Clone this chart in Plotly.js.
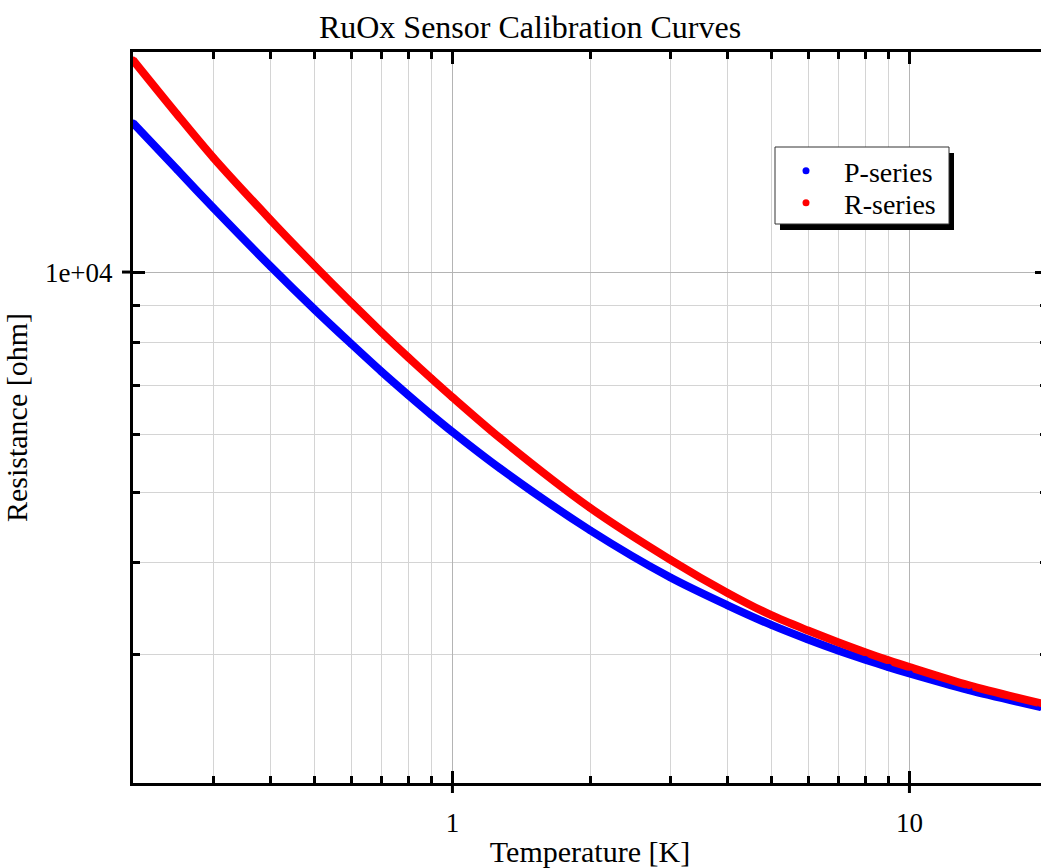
<!DOCTYPE html>
<html>
<head>
<meta charset="utf-8">
<script src="https://cdn.plot.ly/plotly-3.0.1.min.js"></script>
<style>
html, body { margin: 0; padding: 0; overflow: hidden; background: #fff; }
#chart { width: 1060px; height: 868px; }
</style>
</head>
<body>
<div id="chart"></div>
<script>
// Temperatures [K] and resistances [ohm]
const tempP = [0.2, 0.25, 0.3, 0.4, 0.5, 0.6, 0.7, 0.8, 0.9, 1.0, 1.27, 2, 3, 4, 5, 6, 7, 8, 9, 10, 13.5, 19.4];
const resP  = [15990, 13800, 12235, 10180, 8880, 7980, 7305, 6790, 6378, 6044, 5389, 4434, 3820, 3500, 3288, 3143, 3034, 2950, 2881, 2824, 2680, 2540];
const tempR = [0.2, 0.25, 0.3, 0.4, 0.5, 0.6, 0.7, 0.8, 0.9, 1.0, 1.27, 2, 3, 4, 5, 6, 7, 8, 9, 10, 13.5, 19.4];
const resR  = [19500, 16420, 14330, 11785, 10193, 9088, 8272, 7646, 7149, 6742, 5930, 4760, 4040, 3640, 3390, 3233, 3113, 3019, 2943, 2881, 2720, 2570];

const seriesNames = ['P-series', 'R-series'];
const seriesColors = ['#0000ff', '#ff0000'];

const xMajor = [1, 10];
const xMajorText = ['1', '10'];
const xMinor = [0.2, 0.3, 0.4, 0.5, 0.6, 0.7, 0.8, 0.9, 2, 3, 4, 5, 6, 7, 8, 9];
const yMajor = [10000];
const yMajorText = ['1e+04'];
const yMinor = [2000, 3000, 4000, 5000, 6000, 7000, 8000, 9000, 20000];

const serif = 'Liberation Serif, Times New Roman, serif';

// plot area in pixels (of the 1060-wide figure)
const PL = 133, PR = 1047, PT = 52, PB = 783;
const px2paperX = p => (p - PL) / (PR - PL);
const px2paperY = p => (PB - p) / (PB - PT);

function lineTrace(x, y, i) {
  return { x: x, y: y, type: 'scatter', mode: 'lines', name: seriesNames[i],
    line: { color: seriesColors[i], width: 8, shape: 'spline', smoothing: 0.8 },
    showlegend: false, hoverinfo: 'skip' };
}
function legendTrace(x, y, i) {
  return { x: x, y: y, type: 'scatter', mode: 'markers', name: seriesNames[i],
    marker: { color: seriesColors[i], size: 7 }, legend: i === 0 ? 'legend' : 'legend2' };
}

const data = [
  lineTrace(tempP, resP, 0), lineTrace(tempR, resR, 1),
  legendTrace(tempP, resP, 0), legendTrace(tempR, resR, 1)
];

const axisCommon = {
  type: 'log', showline: true, linecolor: '#000', linewidth: 3, mirror: 'ticks',
  ticks: 'inside', ticklen: 12, tickwidth: 3, tickcolor: '#000',
  showgrid: true, gridcolor: '#b4b4b4', gridwidth: 1, zeroline: false,
  tickfont: { family: serif, size: 27, color: '#000' },
  tickmode: 'array'
};

const legendCommon = {
  xanchor: 'left', yanchor: 'middle', bgcolor: 'rgba(0,0,0,0)', borderwidth: 0,
  font: { family: serif, size: 28, color: '#000' }, itemwidth: 66
};

const layout = {
  width: 1060, height: 868,
  margin: { l: PL, r: 1060 - PR, t: PT, b: 868 - PB },
  paper_bgcolor: '#fff', plot_bgcolor: '#fff',
  title: { text: 'RuOx Sensor Calibration Curves', font: { family: serif, size: 32, color: '#000' },
           x: 0.5, xanchor: 'center', y: 1 - 27 / 868, yanchor: 'middle', yref: 'container' },
  xaxis: Object.assign({}, axisCommon, {
    range: [Math.log10(0.2), Math.log10(20)],
    tickvals: xMajor, ticktext: xMajorText, ticklabelstandoff: 14,
    minor: { tickmode: 'array', tickvals: xMinor, ticks: 'inside', ticklen: 7, tickwidth: 3,
             tickcolor: '#000', showgrid: true, gridcolor: '#d4d4d4', gridwidth: 1 },
    title: { text: 'Temperature [K]', font: { family: serif, size: 30, color: '#000' }, standoff: 10 }
  }),
  yaxis: Object.assign({}, axisCommon, {
    range: [Math.log10(2000), Math.log10(20000)],
    tickvals: yMajor, ticktext: yMajorText, ticklabelstandoff: 12,
    minor: { tickmode: 'array', tickvals: yMinor, ticks: 'inside', ticklen: 7, tickwidth: 3,
             tickcolor: '#000', showgrid: true, gridcolor: '#d4d4d4', gridwidth: 1 },
    title: { text: 'Resistance [ohm]', font: { family: serif, size: 30, color: '#000' }, standoff: 10 }
  }),
  legend: Object.assign({}, legendCommon, { x: px2paperX(768), y: px2paperY(171) }),
  legend2: Object.assign({}, legendCommon, { x: px2paperX(768), y: px2paperY(203) }),
  shapes: []
};

// outside extensions of major ticks (they cross the axis line)
xMajor.forEach(v => layout.shapes.push({ type: 'line', xref: 'x', yref: 'paper', ysizemode: 'pixel', yanchor: 0,
  x0: v, x1: v, y0: -10, y1: 0, line: { color: '#000', width: 3 } }));
yMajor.forEach(v => layout.shapes.push({ type: 'line', yref: 'y', xref: 'paper', xsizemode: 'pixel', xanchor: 0,
  y0: v, y1: v, x0: -11, x1: 0, line: { color: '#000', width: 3 } }));

// legend box with drop shadow
const box = { l: 775, r: 949, t: 147, b: 224 };
layout.shapes.push({ type: 'rect', xref: 'paper', yref: 'paper', layer: 'above',
  x0: px2paperX(box.l + 5), x1: px2paperX(box.r + 5), y0: px2paperY(box.b + 6), y1: px2paperY(box.t + 6),
  fillcolor: '#000', line: { width: 0 } });
layout.shapes.push({ type: 'rect', xref: 'paper', yref: 'paper', layer: 'above',
  x0: px2paperX(box.l), x1: px2paperX(box.r), y0: px2paperY(box.b), y1: px2paperY(box.t),
  fillcolor: '#fff', line: { color: '#333', width: 1 } });

Plotly.newPlot('chart', data, layout, { displayModeBar: false, staticPlot: true });
</script>
</body>
</html>
